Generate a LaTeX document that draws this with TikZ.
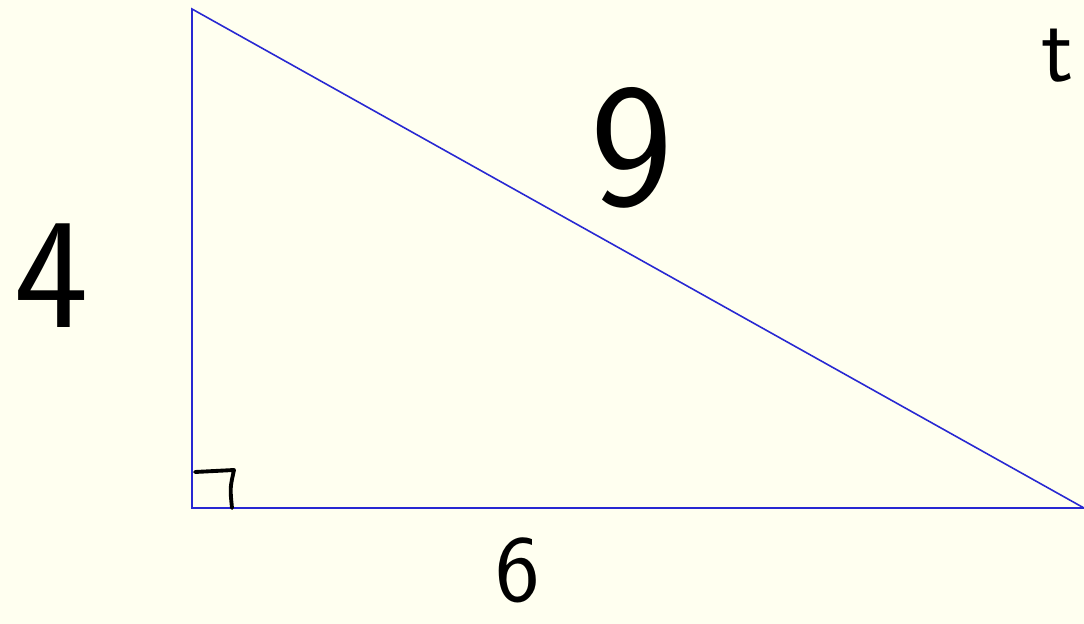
\documentclass[tikz,border=0pt]{standalone}
\usepackage{tikz}
\usetikzlibrary{calc}

\definecolor{paper}{RGB}{255,255,240}
\definecolor{edgeblue}{RGB}{40,40,210}

\tikzset{
  side/.style={edgeblue,line width=0.9pt},
  hand/.style={font=\sffamily\fontsize{#1}{#1}\selectfont,inner sep=0pt}
}

\begin{document}
\begin{tikzpicture}[x=0.02cm,y=-0.02cm]
  \useasboundingbox[fill=paper] (0,0) rectangle (1084,624);
  \coordinate (A) at (192,9); \coordinate (B) at (192,508); \coordinate (C) at (1084,508);
  \draw[side] (A) -- (B) -- (C) -- cycle;
  % right angle mark
  \draw[line width=2.2pt,line cap=round,line join=round] ($(B)+(3,-36)$) -- ($(B)+(42,-38)$) .. controls ($(B)+(38,-20)$) .. ($(B)+(40,0)$);
  \node[hand=100] (hyp) at (632,148) {9};
  \node[hand=90] (left) at (52,276) {4};
  \node[hand=54] (base) at (518,570) {6};
  \node[hand=54] (corner) at (1058,56) {t};
\end{tikzpicture}
\end{document}
